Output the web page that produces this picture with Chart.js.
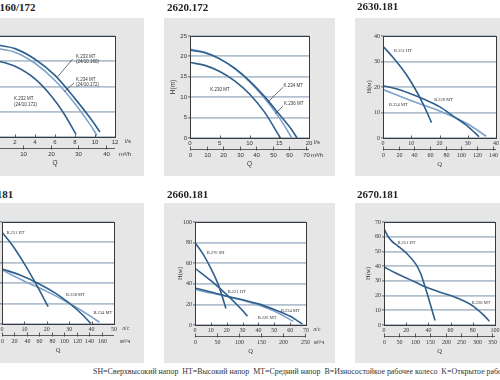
<!DOCTYPE html>
<html><head><meta charset="utf-8">
<script src="https://cdn.jsdelivr.net/npm/chart.js@4"></script>
<style>
html,body{margin:0;padding:0;width:500px;height:380px;overflow:hidden;background:#fff;position:relative}
.panel{position:absolute;background:#e6e6e6}
.title{position:absolute;font:bold 11px 'Liberation Serif','Times New Roman',serif;line-height:11px;color:#222;white-space:nowrap}
canvas{position:absolute}
.footer{position:absolute;left:93px;top:367px;font:7.9px 'Liberation Serif','Times New Roman',serif;line-height:10px;color:#333;white-space:pre}
</style></head><body>
<div class="panel" style="left:-10px;top:18px;width:154px;height:158px"></div>
<div class="panel" style="left:164px;top:18px;width:171px;height:158px"></div>
<div class="panel" style="left:355px;top:18px;width:160px;height:158px"></div>
<div class="panel" style="left:-10px;top:203px;width:154px;height:160px"></div>
<div class="panel" style="left:164px;top:203px;width:171px;height:160px"></div>
<div class="panel" style="left:355px;top:203px;width:160px;height:160px"></div>
<script>
// ---------- DATA ----------
// Panel 1: 2160/172  (Q in l/s, H in m)
const p1Title = '2160/172';
const p1K233Q = [0, 2, 4, 6, 8, 9.5, 10.5];
const p1K233H = [18.3, 17.5, 15.4, 12.2, 7.6, 3.8, 1.0];
const p1K234Q = [0, 2, 4, 6, 8, 9.5, 10.2];
const p1K234H = [17.6, 16.8, 14.6, 11.2, 6.6, 2.5, 0.3];
const p1K232Q = [0, 2, 4, 6, 7, 8.1];
const p1K232H = [15.2, 14.0, 11.5, 7.2, 4.3, 0.5];
const p1Flow2Ticks = [0, 10, 20, 30, 40];

// Panel 2: 2620.172
const p2Title = '2620.172';
const p2K234Q = [0, 2.5, 5, 7.5, 10, 12.5, 15, 17, 18];
const p2K234H = [21.5, 20.9, 19.4, 17.1, 14, 10.2, 5.8, 2.2, 0];
const p2K236Q = [0, 2.5, 5, 7.5, 10, 12.5, 15, 16.3, 17.1];
const p2K236H = [21.8, 21, 19.4, 17, 13.8, 9.8, 5, 2, 0];
const p2K230Q = [0, 2.5, 5, 7.5, 10, 12.5, 15.2];
const p2K230H = [18.5, 17.8, 16.3, 14, 10.8, 6.4, 0];
const p2Flow2Ticks = [0, 10, 20, 30, 40, 50, 60, 70];

// Panel 3: 2630.181
const p3Title = '2630.181';
const p3B251Q = [0, 4, 8, 11, 14, 17.2];
const p3B251H = [36, 31, 25.3, 20, 13.8, 6];
const p3B228Q = [0, 5, 10, 15, 20, 25, 30, 34];
const p3B228H = [20.5, 19.2, 17.3, 15, 12.3, 8.5, 4.6, 0.5];
const p3B234Q = [0, 10, 20, 30, 36.5];
const p3B234H = [19, 14.6, 10.6, 5.5, 0.7];
const p3Flow2Ticks = [0, 20, 40, 60, 80, 100, 120, 140];

// Panel 4: 2640.181
const p4Title = '2640.181';
const p4B251Q = [0, 5, 10, 15, 20.6];
const p4B251H = [45, 38, 29.5, 20, 8.5];
const p4B228Q = [0, 8, 16, 24, 30, 35, 39.6];
const p4B228H = [27, 24, 20, 15, 10.2, 5.5, 0.3];
const p4B234Q = [0, 10, 20, 30, 40, 43.5];
const p4B234H = [26.5, 21, 16, 10.2, 3.5, 0.8];
const p4Flow2Ticks = [0, 20, 40, 60, 80, 100, 120, 140, 160];

// Panel 5: 2660.181
const p5Title = '2660.181';
const p5B276Q = [0, 5, 10, 15, 19.5];
const p5B276H = [80, 69, 55, 38, 16];
const p5B231Q = [0, 10, 20, 30, 33];
const p5B231H = [55, 43, 29.5, 14, 8.5];
const p5B234Q = [0, 10, 20, 30, 40, 50, 60, 67.7];
const p5B234H = [36, 32, 28, 24.5, 20.5, 15, 8.5, 1];
const p5B226Q = [0, 10, 20, 30, 40, 50, 62];
const p5B226H = [34.5, 31, 28, 24, 19.5, 13.5, 3.5];
const p5Flow2Ticks = [0, 50, 100, 150, 200, 250];

// Panel 6: 2670.181
const p6Title = '2670.181';
const p6B251Q = [0, 3, 7, 12, 20, 29, 33, 37, 41, 46];
const p6B251H = [65.5, 61, 57, 54, 49, 41, 35, 26, 16, 3];
const p6B228Q = [0, 10, 20, 30, 37, 50, 60, 70, 80, 90, 95];
const p6B228H = [39.5, 35.5, 32, 28.5, 26, 22.5, 20, 17, 13, 6.5, 2.5];
const p6Flow2Ticks = [0, 50, 100, 150, 200, 250, 300, 350];

const footerText = 'SH=Сверхвысокий напор  HT=Высокий напор  MT=Средний напор  B=Износостойкое рабочее колесо  K=Открытое рабочее колесо';

// ---------- STYLE ----------
const SANS = "'Liberation Sans', Arial, sans-serif";
const SERIF = "'Liberation Serif', 'Times New Roman', serif";
const DARK = '#2f5f8c';
const LIGHT = '#7fa2cc';
const GRID = '#b3c0cf';
const INK = '#333';
const M3H = 3.6; // m3/h per l/s

const panels = [
  { title: p1Title, tx: -6, ty: 2, serif: false, plot: [-5, 115, 36, 137], xMax: 12, xStep: 2, yMax: 20, yStep: 5,
    flow2: p1Flow2Ticks, u1: 'l/s', u2: 'm³/h', u1dx: 10, u2dx: 4, yTitle: 'H(m)', yTdx: -17,
    series: [ {q: p1K233Q, h: p1K233H, c: DARK}, {q: p1K234Q, h: p1K234H, c: LIGHT}, {q: p1K232Q, h: p1K232H, c: DARK} ],
    notes: [ {t: ['K.233 MT', '(24/10.160)'], q: 8.1, h: 15.9, ln: [7.75, 15.4, 6.25, 11.9]},
             {t: ['K.234 MT', '(24/10.172)'], q: 8.1, h: 11.3, ln: [7.9, 10.7, 6.95, 9.0]},
             {t: ['K.232 MT', '(24/10.172)'], q: 1.9, h: 7.5} ] },
  { title: p2Title, tx: 167, ty: 2, serif: false, plot: [190, 309, 36, 138], xMax: 20, xStep: 5, yMax: 25, yStep: 5,
    flow2: p2Flow2Ticks, u1: 'l/s', u2: 'm³/h', u1dx: 5, u2dx: 2, yTitle: 'H(m)', yTdx: -17,
    series: [ {q: p2K234Q, h: p2K234H, c: DARK}, {q: p2K236Q, h: p2K236H, c: LIGHT}, {q: p2K230Q, h: p2K230H, c: DARK} ],
    notes: [ {t: ['K.230 MT'], q: 3.4, h: 11.8},
             {t: ['K.234 MT'], q: 15.7, h: 12.8, ln: [15.6, 12.4, 13.15, 8.9]},
             {t: ['K.236 MT'], q: 15.8, h: 8.3, ln: [15.6, 7.8, 14.3, 5.9]} ] },
  { title: p3Title, tx: 357, ty: 1, serif: true, plot: [383, 496, 36, 138], xMax: 40, xStep: 10, yMax: 40, yStep: 10,
    flow2: p3Flow2Ticks, u1: 'л/с', u2: 'м³/ч', u1dx: 8, u2dx: 6, yTitle: 'H(м)', yTdx: -14,
    series: [ {q: p3B251Q, h: p3B251H, c: DARK}, {q: p3B228Q, h: p3B228H, c: DARK}, {q: p3B234Q, h: p3B234H, c: LIGHT} ],
    notes: [ {t: ['B.251 HT'], q: 3.9, h: 34.1}, {t: ['B.228 MT'], q: 18.1, h: 14.8}, {t: ['B.234 MT'], q: 2.1, h: 13.1} ] },
  { title: p4Title, tx: -28, ty: 189, serif: true, plot: [2, 114, 222, 324], xMax: 50, xStep: 10, yMax: 50, yStep: 10,
    flow2: p4Flow2Ticks, u1: 'л/с', u2: 'м³/ч', u1dx: 8, u2dx: 6, yTitle: 'H(м)', yTdx: -15,
    series: [ {q: p4B251Q, h: p4B251H, c: DARK}, {q: p4B228Q, h: p4B228H, c: DARK}, {q: p4B234Q, h: p4B234H, c: LIGHT} ],
    notes: [ {t: ['B.251 HT'], q: 2.0, h: 44.7}, {t: ['B.228 MT'], q: 28.6, h: 14.3}, {t: ['B.234 MT'], q: 40.8, h: 5.5} ] },
  { title: p5Title, tx: 167, ty: 189, serif: true, plot: [195, 306, 222, 325], xMax: 70, xStep: 10, yMax: 100, yStep: 20,
    flow2: p5Flow2Ticks, u1: 'л/с', u2: 'м³/ч', u1dx: 7, u2dx: 8, yTitle: 'H(м)', yTdx: -15,
    series: [ {q: p5B276Q, h: p5B276H, c: DARK}, {q: p5B231Q, h: p5B231H, c: DARK}, {q: p5B234Q, h: p5B234H, c: DARK}, {q: p5B226Q, h: p5B226H, c: LIGHT} ],
    notes: [ {t: ['B.276 SH'], q: 7.4, h: 69.7}, {t: ['B.231 HT'], q: 20.6, h: 32.6}, {t: ['B.234 MT'], q: 54.2, h: 13.6}, {t: ['B.226 MT'], q: 39.5, h: 6.5} ] },
  { title: p6Title, tx: 357, ty: 189, serif: true, plot: [384, 495, 222, 325], xMax: 100, xStep: 20, yMax: 70, yStep: 10,
    flow2: p6Flow2Ticks, u1: 'л/с', u2: 'м³/ч', u1dx: 8, u2dx: 6, yTitle: 'H(м)', yTdx: -16,
    series: [ {q: p6B251Q, h: p6B251H, c: DARK}, {q: p6B228Q, h: p6B228H, c: DARK} ],
    notes: [ {t: ['B.251 HT'], q: 12.1, h: 55.6}, {t: ['B.228 MT'], q: 79, h: 15.1} ] }
];

const deco = {
  id: 'deco',
  beforeDraw(chart) {
    const a = chart.chartArea, ctx = chart.ctx;
    ctx.save(); ctx.fillStyle = '#fff';
    ctx.fillRect(a.left, a.top, a.right - a.left, a.bottom - a.top);
    ctx.restore();
  },
  afterDatasetsDraw(chart) {
    const p = chart.options.plugins.deco.p;
    const a = chart.chartArea, ctx = chart.ctx;
    const xs = chart.scales.x, ys = chart.scales.y;
    const font = p.serif ? SERIF : SANS;
    ctx.save();
    // frame
    ctx.strokeStyle = '#3a3a3a'; ctx.lineWidth = 1;
    ctx.strokeRect(Math.round(a.left) + 0.5, Math.round(a.top) + 0.5, Math.round(a.right - a.left), Math.round(a.bottom - a.top));
    // inward x ticks
    ctx.lineWidth = 0.8;
    xs.ticks.forEach(t => {
      const x = Math.round(xs.getPixelForValue(t.value)) + 0.5;
      ctx.beginPath(); ctx.moveTo(x, a.bottom); ctx.lineTo(x, a.bottom - 2.5); ctx.stroke();
    });
    // secondary flow axis (m3/h)
    const y0 = Math.round(a.bottom + 11) + 0.5;
    ctx.beginPath(); ctx.moveTo(a.left, y0); ctx.lineTo(a.right, y0); ctx.stroke();
    ctx.fillStyle = INK; ctx.font = '6px ' + font; ctx.textAlign = 'center'; ctx.textBaseline = 'middle';
    p.flow2.forEach(v => {
      const x = Math.round(xs.getPixelForValue(v / M3H)) + 0.5;
      ctx.beginPath(); ctx.moveTo(x, y0 - 3); ctx.lineTo(x, y0 + 1); ctx.stroke();
      ctx.fillText(String(v), x, y0 + 6);
    });
    // units
    ctx.textAlign = 'left';
    ctx.fillText(p.u1, a.right + p.u1dx, a.bottom + 4.5);
    ctx.fillText(p.u2, a.right + p.u2dx, y0 + 6);
    // Q label
    ctx.textAlign = 'center';
    ctx.font = '6.5px ' + font;
    ctx.fillText('Q', (a.left + a.right) / 2, a.bottom + 26);
    // y title
    ctx.save();
    ctx.translate(a.left + p.yTdx, (a.top + a.bottom) / 2);
    ctx.rotate(-Math.PI / 2);
    ctx.fillText(p.yTitle, 0, 0);
    ctx.restore();
    // curve notes
    ctx.font = '4.5px ' + font; ctx.textAlign = 'left'; ctx.fillStyle = '#333';
    p.notes.forEach(n => {
      const x = xs.getPixelForValue(n.q), y = ys.getPixelForValue(n.h);
      n.t.forEach((s, i) => ctx.fillText(s, x, y + i * 5.3));
      if (n.ln) {
        ctx.strokeStyle = '#333'; ctx.lineWidth = 0.7;
        ctx.beginPath();
        ctx.moveTo(xs.getPixelForValue(n.ln[0]), ys.getPixelForValue(n.ln[1]));
        ctx.lineTo(xs.getPixelForValue(n.ln[2]), ys.getPixelForValue(n.ln[3]));
        ctx.stroke();
      }
    });
    ctx.restore();
  }
};

function build(p) {
  const ML = 40, MT = 8, MR = 40, MB = 40;
  const pw = p.plot[1] - p.plot[0], ph = p.plot[3] - p.plot[2];
  const W = pw + ML + MR, H = ph + MT + MB;
  const c = document.createElement('canvas');
  c.width = W; c.height = H;
  c.style.left = (p.plot[0] - ML) + 'px'; c.style.top = (p.plot[2] - MT) + 'px';
  c.style.width = W + 'px'; c.style.height = H + 'px';
  document.body.appendChild(c);
  const t = document.createElement('div');
  t.className = 'title'; t.textContent = p.title;
  t.style.left = p.tx + 'px'; t.style.top = p.ty + 'px';
  document.body.appendChild(t);
  const font = p.serif ? SERIF : SANS;
  new Chart(c, {
    type: 'scatter',
    data: { datasets: p.series.map(s => ({
      data: s.q.map((q, i) => ({ x: q, y: s.h[i] })),
      showLine: true, borderColor: s.c, borderWidth: 1.6, pointRadius: 0,
      cubicInterpolationMode: 'monotone', fill: false })) },
    options: {
      responsive: false, animation: false, devicePixelRatio: 1,
      layout: { padding: { left: 0, top: MT, right: MR, bottom: 0 } },
      plugins: { legend: { display: false }, tooltip: { enabled: false }, deco: { p: p } },
      scales: {
        x: { type: 'linear', min: 0, max: p.xMax, afterFit(s) { s.height = MB; },
             border: { display: false }, grid: { display: false, drawTicks: false },
             ticks: { stepSize: p.xStep, font: { family: font, size: 6 }, color: INK, padding: 2, maxRotation: 0, autoSkip: false } },
        y: { type: 'linear', min: 0, max: p.yMax, afterFit(s) { s.width = ML; },
             border: { display: false },
             grid: { color: GRID, lineWidth: 1.8, tickLength: 2, tickColor: '#444', tickWidth: 0.8 },
             ticks: { stepSize: p.yStep, font: { family: font, size: 6 }, color: INK, padding: 1, autoSkip: false } }
      }
    },
    plugins: [deco]
  });
}
panels.forEach(build);
const f = document.createElement('div');
f.className = 'footer'; f.textContent = footerText;
document.body.appendChild(f);
</script>
</body></html>
